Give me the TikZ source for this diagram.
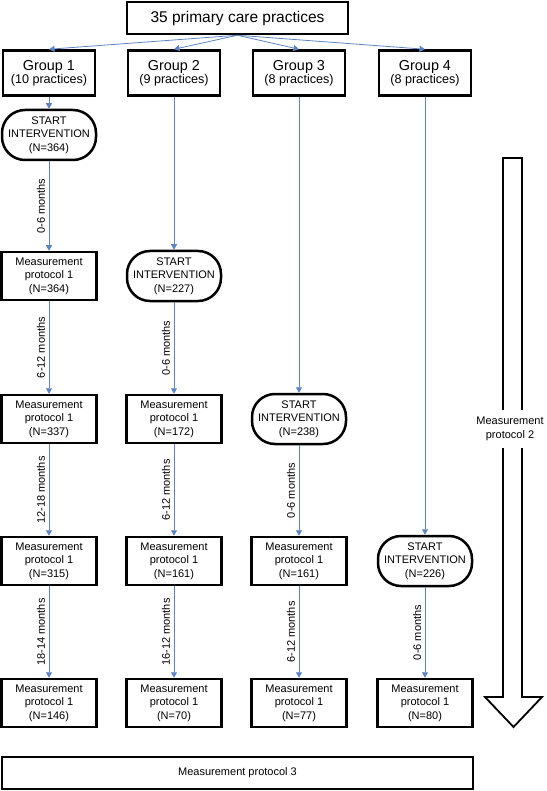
\documentclass[tikz,border=0pt]{standalone}
\usepackage{fontspec}
\setmainfont{Liberation Sans}
\usetikzlibrary{arrows.meta}
\definecolor{conn}{RGB}{92,132,196}
\tikzset{
  box/.style={draw=black, line width=2.5pt, fill=white, minimum width=95pt, minimum height=48pt, inner sep=0pt, align=center, font=\fontsize{11}{13.4}\selectfont},
  startbox/.style={box, minimum width=94pt, minimum height=50pt, rounded corners=23pt},
  grpbox/.style={draw=black, line width=2.5pt, fill=white, minimum width=92pt, minimum height=45pt, inner sep=0pt, align=center},
  conn/.style={draw=conn, line width=0.8pt, -{Triangle[width=6pt,length=5.5pt]}},
  mlabel/.style={midway, rotate=90, anchor=south, inner sep=3.5pt, font=\fontsize{11}{13}\selectfont},
}
\begin{document}
\begin{tikzpicture}[x=1pt,y=-1pt]
\useasboundingbox (0,0) rectangle (546,791);
% top
\node[draw=black, line width=2.5pt, minimum width=221pt, minimum height=32pt, inner sep=0pt, font=\fontsize{15.5}{18}\selectfont] (top) at (237.5,18) {35 primary care practices};
% groups
\node[grpbox] (g1) at (49,73) {\fontsize{14.4}{18}\selectfont Group 1\\\fontsize{12.6}{15}\selectfont (10 practices)};
\node[grpbox] (g2) at (174,73) {\fontsize{14.4}{18}\selectfont Group 2\\\fontsize{12.6}{15}\selectfont (9 practices)};
\node[grpbox] (g3) at (299,73) {\fontsize{14.4}{18}\selectfont Group 3\\\fontsize{12.6}{15}\selectfont (8 practices)};
\node[grpbox] (g4) at (425,73) {\fontsize{14.4}{18}\selectfont Group 4\\\fontsize{12.6}{15}\selectfont (8 practices)};
% column 1
\node[startbox] (a1) at (49,135) {START\\INTERVENTION\\(N=364)};
\node[box] (a2) at (49,276) {Measurement\\protocol 1\\(N=364)};
\node[box] (a3) at (49,419) {Measurement\\protocol 1\\(N=337)};
\node[box] (a4) at (49,561) {Measurement\\protocol 1\\(N=315)};
\node[box] (a5) at (49,703) {Measurement\\protocol 1\\(N=146)};
% column 2
\node[startbox] (b2) at (174,276) {START\\INTERVENTION\\(N=227)};
\node[box] (b3) at (174,419) {Measurement\\protocol 1\\(N=172)};
\node[box] (b4) at (174,561) {Measurement\\protocol 1\\(N=161)};
\node[box] (b5) at (174,703) {Measurement\\protocol 1\\(N=70)};
% column 3
\node[startbox] (c3) at (299,419) {START\\INTERVENTION\\(N=238)};
\node[box] (c4) at (299,561) {Measurement\\protocol 1\\(N=161)};
\node[box] (c5) at (299,703) {Measurement\\protocol 1\\(N=77)};
% column 4
\node[startbox] (d4) at (425,561) {START\\INTERVENTION\\(N=226)};
\node[box] (d5) at (425,703) {Measurement\\protocol 1\\(N=80)};
% bottom
\node[draw=black, line width=2.5pt, minimum width=471pt, minimum height=32pt, inner sep=0pt, font=\fontsize{11}{13}\selectfont] (bot) at (237.5,773) {Measurement protocol 3};
% top connectors
\draw[conn] (top.south) -- (g1.north);
\draw[conn] (top.south) -- (g2.north);
\draw[conn] (top.south) -- (g3.north);
\draw[conn] (top.south) -- (g4.north);
% column connectors
\draw[conn] (g1.south) -- (a1.north);
\draw[conn] (a1.south) -- (a2.north) node[mlabel]{0-6 months};
\draw[conn] (a2.south) -- (a3.north) node[mlabel]{6-12 months};
\draw[conn] (a3.south) -- (a4.north) node[mlabel]{12-18 months};
\draw[conn] (a4.south) -- (a5.north) node[mlabel]{18-14 months};
\draw[conn] (g2.south) -- (b2.north);
\draw[conn] (b2.south) -- (b3.north) node[mlabel]{0-6 months};
\draw[conn] (b3.south) -- (b4.north) node[mlabel]{6-12 months};
\draw[conn] (b4.south) -- (b5.north) node[mlabel]{16-12 months};
\draw[conn] (g3.south) -- (c3.north);
\draw[conn] (c3.south) -- (c4.north) node[mlabel]{0-6 months};
\draw[conn] (c4.south) -- (c5.north) node[mlabel]{6-12 months};
\draw[conn] (g4.south) -- (d4.north);
\draw[conn] (d4.south) -- (d5.north) node[mlabel]{0-6 months};
% big arrow
\draw[black, line width=1.8pt, fill=white, line join=miter]
  (503,158) -- (522,158) -- (522,697) -- (542,697) -- (513.5,727) -- (485,697) -- (503,697) -- cycle;
\node[fill=white, inner sep=0pt, minimum height=38pt, align=center, font=\fontsize{11}{14}\selectfont] (mp2) at (510,429) {Measurement\\protocol 2};
\end{tikzpicture}
\end{document}
